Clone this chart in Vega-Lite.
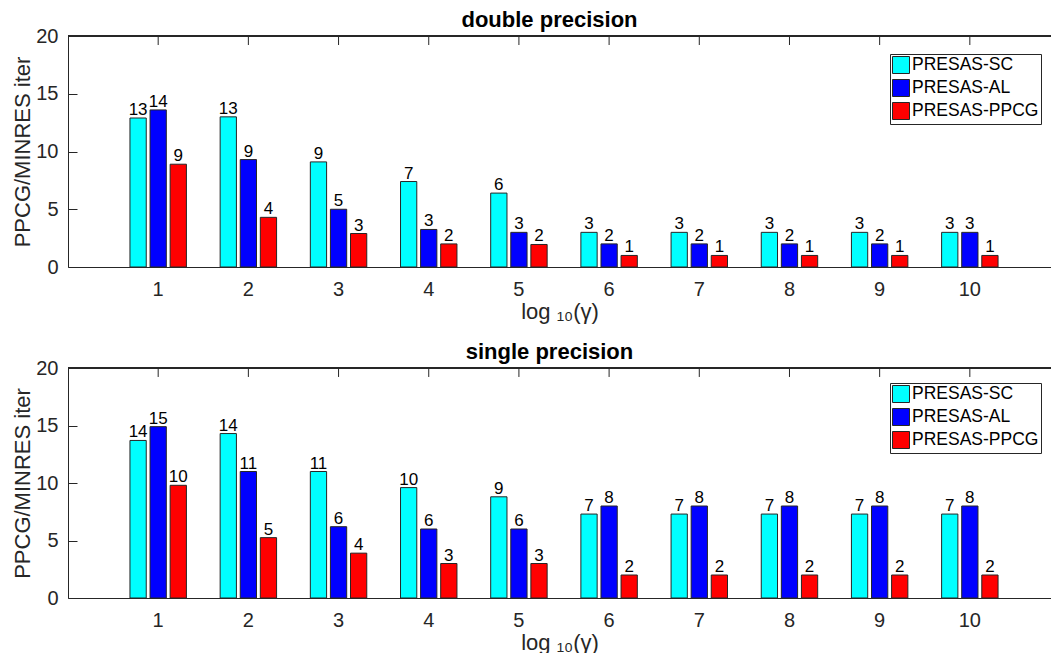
{
  "$schema": "https://vega.github.io/schema/vega-lite/v6.json",
  "padding": {"left": 11, "top": 9, "right": 0, "bottom": 0},
  "background": "white",
  "spacing": 19,
  "datasets": {
    "double": [
      {"gamma": 1, "method": "PRESAS-SC", "value": 12.9},
      {"gamma": 1, "method": "PRESAS-AL", "value": 13.6},
      {"gamma": 1, "method": "PRESAS-PPCG", "value": 8.9},
      {"gamma": 2, "method": "PRESAS-SC", "value": 13.0},
      {"gamma": 2, "method": "PRESAS-AL", "value": 9.3},
      {"gamma": 2, "method": "PRESAS-PPCG", "value": 4.3},
      {"gamma": 3, "method": "PRESAS-SC", "value": 9.1},
      {"gamma": 3, "method": "PRESAS-AL", "value": 5.0},
      {"gamma": 3, "method": "PRESAS-PPCG", "value": 2.9},
      {"gamma": 4, "method": "PRESAS-SC", "value": 7.4},
      {"gamma": 4, "method": "PRESAS-AL", "value": 3.25},
      {"gamma": 4, "method": "PRESAS-PPCG", "value": 2.0},
      {"gamma": 5, "method": "PRESAS-SC", "value": 6.4},
      {"gamma": 5, "method": "PRESAS-AL", "value": 3.0},
      {"gamma": 5, "method": "PRESAS-PPCG", "value": 1.95},
      {"gamma": 6, "method": "PRESAS-SC", "value": 3.0},
      {"gamma": 6, "method": "PRESAS-AL", "value": 2.0},
      {"gamma": 6, "method": "PRESAS-PPCG", "value": 1.0},
      {"gamma": 7, "method": "PRESAS-SC", "value": 3.0},
      {"gamma": 7, "method": "PRESAS-AL", "value": 2.0},
      {"gamma": 7, "method": "PRESAS-PPCG", "value": 1.0},
      {"gamma": 8, "method": "PRESAS-SC", "value": 3.0},
      {"gamma": 8, "method": "PRESAS-AL", "value": 2.0},
      {"gamma": 8, "method": "PRESAS-PPCG", "value": 1.0},
      {"gamma": 9, "method": "PRESAS-SC", "value": 3.0},
      {"gamma": 9, "method": "PRESAS-AL", "value": 2.0},
      {"gamma": 9, "method": "PRESAS-PPCG", "value": 1.0},
      {"gamma": 10, "method": "PRESAS-SC", "value": 3.0},
      {"gamma": 10, "method": "PRESAS-AL", "value": 3.0},
      {"gamma": 10, "method": "PRESAS-PPCG", "value": 1.0}
    ],
    "single": [
      {"gamma": 1, "method": "PRESAS-SC", "value": 13.7},
      {"gamma": 1, "method": "PRESAS-AL", "value": 14.9},
      {"gamma": 1, "method": "PRESAS-PPCG", "value": 9.8},
      {"gamma": 2, "method": "PRESAS-SC", "value": 14.3},
      {"gamma": 2, "method": "PRESAS-AL", "value": 11.0},
      {"gamma": 2, "method": "PRESAS-PPCG", "value": 5.25},
      {"gamma": 3, "method": "PRESAS-SC", "value": 11.0},
      {"gamma": 3, "method": "PRESAS-AL", "value": 6.2},
      {"gamma": 3, "method": "PRESAS-PPCG", "value": 3.9},
      {"gamma": 4, "method": "PRESAS-SC", "value": 9.6},
      {"gamma": 4, "method": "PRESAS-AL", "value": 6.0},
      {"gamma": 4, "method": "PRESAS-PPCG", "value": 3.0},
      {"gamma": 5, "method": "PRESAS-SC", "value": 8.8},
      {"gamma": 5, "method": "PRESAS-AL", "value": 6.0},
      {"gamma": 5, "method": "PRESAS-PPCG", "value": 3.0},
      {"gamma": 6, "method": "PRESAS-SC", "value": 7.3},
      {"gamma": 6, "method": "PRESAS-AL", "value": 8.0},
      {"gamma": 6, "method": "PRESAS-PPCG", "value": 2.0},
      {"gamma": 7, "method": "PRESAS-SC", "value": 7.3},
      {"gamma": 7, "method": "PRESAS-AL", "value": 8.0},
      {"gamma": 7, "method": "PRESAS-PPCG", "value": 2.0},
      {"gamma": 8, "method": "PRESAS-SC", "value": 7.3},
      {"gamma": 8, "method": "PRESAS-AL", "value": 8.0},
      {"gamma": 8, "method": "PRESAS-PPCG", "value": 2.0},
      {"gamma": 9, "method": "PRESAS-SC", "value": 7.3},
      {"gamma": 9, "method": "PRESAS-AL", "value": 8.0},
      {"gamma": 9, "method": "PRESAS-PPCG", "value": 2.0},
      {"gamma": 10, "method": "PRESAS-SC", "value": 7.3},
      {"gamma": 10, "method": "PRESAS-AL", "value": 8.0},
      {"gamma": 10, "method": "PRESAS-PPCG", "value": 2.0}
    ]
  },
  "vconcat": [
    {
      "title": {"text": "double precision"},
      "width": 983,
      "height": 231,
      "data": {"name": "double"},
      "layer": [
        {
          "mark": {"type": "bar", "stroke": "#262626", "strokeWidth": 1},
          "encoding": {
            "x": {"field": "gamma", "type": "ordinal", "scale": {"paddingInner": 0, "paddingOuter": 0.45, "align": 0.5556}, "axis": {"orient": "bottom", "title": "log ₁₀(γ)", "labelAngle": 0, "ticks": true, "tickSize": -9, "labelPadding": 21}},
            "xOffset": {"field": "method", "type": "nominal", "sort": ["PRESAS-SC", "PRESAS-AL", "PRESAS-PPCG"], "scale": {"paddingInner": 0.19, "paddingOuter": 0.84}},
            "y": {"field": "value", "type": "quantitative", "scale": {"domain": [0, 20]}, "axis": {"orient": "left", "title": "PPCG/MINRES iter", "values": [0, 5, 10, 15, 20], "ticks": true, "tickSize": -9, "labelPadding": 19}},
            "color": {"field": "method", "type": "nominal", "scale": {"domain": ["PRESAS-SC", "PRESAS-AL", "PRESAS-PPCG"], "range": ["#00FFFF", "#0000FF", "#FF0000"]}, "legend": {"legendX": 822, "legendY": 18}}
          }
        },
        {
          "mark": {"type": "text", "baseline": "alphabetic", "dy": -3, "fontSize": 17, "color": "#000000"},
          "encoding": {
            "x": {"field": "gamma", "type": "ordinal"},
            "xOffset": {"field": "method", "type": "nominal", "sort": ["PRESAS-SC", "PRESAS-AL", "PRESAS-PPCG"]},
            "y": {"field": "value", "type": "quantitative"},
            "text": {"field": "value", "type": "quantitative", "format": ".0f"}
          }
        },
        {
          "transform": [{"filter": "datum.method === 'PRESAS-AL'"}],
          "mark": {"type": "rule", "color": "#262626", "strokeWidth": 1},
          "encoding": {
            "x": {"field": "gamma", "type": "ordinal"},
            "y": {"datum": 20},
            "y2": {"datum": 19.22}
          }
        },
        {
          "mark": {"type": "rule", "color": "#262626", "strokeWidth": 1},
          "encoding": {"y": {"datum": 20}}
        }
      ]
    },
    {
      "title": {"text": "single precision"},
      "width": 983,
      "height": 230,
      "data": {"name": "single"},
      "layer": [
        {
          "mark": {"type": "bar", "stroke": "#262626", "strokeWidth": 1},
          "encoding": {
            "x": {"field": "gamma", "type": "ordinal", "scale": {"paddingInner": 0, "paddingOuter": 0.45, "align": 0.5556}, "axis": {"orient": "bottom", "title": "log ₁₀(γ)", "labelAngle": 0, "ticks": true, "tickSize": -9, "labelPadding": 21}},
            "xOffset": {"field": "method", "type": "nominal", "sort": ["PRESAS-SC", "PRESAS-AL", "PRESAS-PPCG"], "scale": {"paddingInner": 0.19, "paddingOuter": 0.84}},
            "y": {"field": "value", "type": "quantitative", "scale": {"domain": [0, 20]}, "axis": {"orient": "left", "title": "PPCG/MINRES iter", "values": [0, 5, 10, 15, 20], "ticks": true, "tickSize": -9, "labelPadding": 19}},
            "color": {"field": "method", "type": "nominal", "scale": {"domain": ["PRESAS-SC", "PRESAS-AL", "PRESAS-PPCG"], "range": ["#00FFFF", "#0000FF", "#FF0000"]}, "legend": {"legendX": 822, "legendY": 15}}
          }
        },
        {
          "mark": {"type": "text", "baseline": "alphabetic", "dy": -3, "fontSize": 17, "color": "#000000"},
          "encoding": {
            "x": {"field": "gamma", "type": "ordinal"},
            "xOffset": {"field": "method", "type": "nominal", "sort": ["PRESAS-SC", "PRESAS-AL", "PRESAS-PPCG"]},
            "y": {"field": "value", "type": "quantitative"},
            "text": {"field": "value", "type": "quantitative", "format": ".0f"}
          }
        },
        {
          "transform": [{"filter": "datum.method === 'PRESAS-AL'"}],
          "mark": {"type": "rule", "color": "#262626", "strokeWidth": 1},
          "encoding": {
            "x": {"field": "gamma", "type": "ordinal"},
            "y": {"datum": 20},
            "y2": {"datum": 19.22}
          }
        },
        {
          "mark": {"type": "rule", "color": "#262626", "strokeWidth": 1},
          "encoding": {"y": {"datum": 20}}
        }
      ]
    }
  ],
  "resolve": {"legend": {"color": "independent"}},
  "config": {
    "font": "Liberation Sans",
    "view": {"stroke": null},
    "title": {"fontSize": 22, "fontWeight": "bold", "color": "#000000", "offset": -6, "dx": -10, "baseline": "alphabetic", "anchor": "middle"},
    "axis": {
      "grid": false,
      "zindex": 1,
      "domainColor": "#262626",
      "tickColor": "#262626",
      "labelColor": "#262626",
      "titleColor": "#262626",
      "labelFontSize": 20,
      "titleFontSize": 22,
      "titleFontWeight": "normal",
      "domainWidth": 1,
      "tickWidth": 1
    },
    "axisY": {"titlePadding": 1},
    "axisX": {"titlePadding": 2},
    "legend": {
      "orient": "none",
      "title": null,
      "direction": "vertical",
      "symbolType": "square",
      "symbolSize": 289,
      "symbolStrokeColor": "#262626",
      "symbolStrokeWidth": 1,
      "symbolOpacity": 1,
      "labelFontSize": 17.5,
      "labelColor": "#000000",
      "labelOffset": 2,
      "rowPadding": 1,
      "padding": 2,
      "strokeColor": "#262626",
      "fillColor": "#FFFFFF",
      "zindex": 2
    }
  }
}
